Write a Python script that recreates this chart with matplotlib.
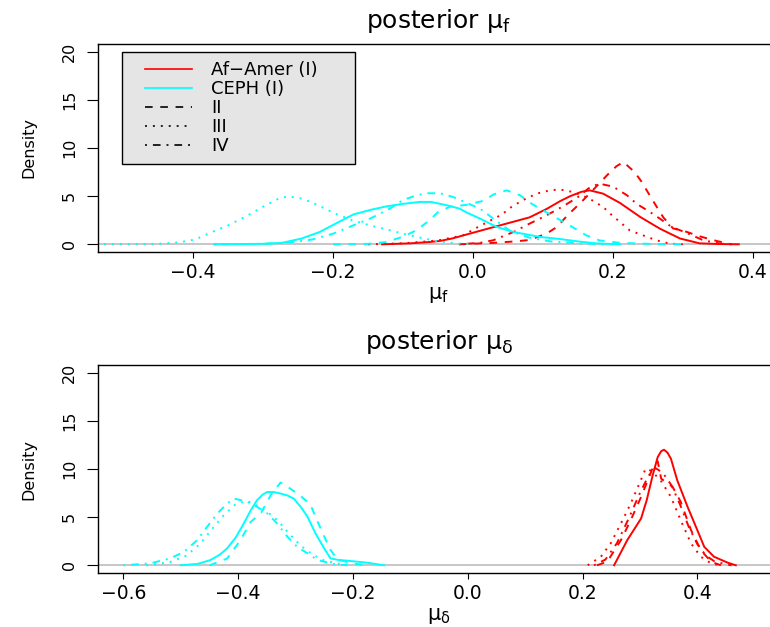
import matplotlib.pyplot as plt
from matplotlib.lines import Line2D
from matplotlib.legend_handler import HandlerLine2D

plt.rcParams['font.family'] = ['DejaVu Sans']
plt.rcParams['mathtext.fontset'] = 'dejavusans'
plt.rcParams['lines.scale_dashes'] = False

# ---------------- DATA: posterior mu_f (top panel) ----------------
# Af-Amer (red)
mf_afr_I_x = [-0.13, -0.09, -0.06, -0.047, -0.03, 0.0, 0.02, 0.048, 0.081, 0.106, 0.125, 0.139, 0.155, 0.167, 0.186, 0.21, 0.239, 0.267, 0.296, 0.324, 0.35, 0.38]
mf_afr_I_y = [0.0, 0.1, 0.25, 0.35, 0.6, 1.2, 1.6, 2.15, 2.8, 3.7, 4.5, 5.0, 5.45, 5.6, 5.26, 4.3, 2.84, 1.63, 0.6, 0.1, 0.03, 0.0]
mf_afr_II_x = [-0.02, 0.03, 0.06, 0.077, 0.09, 0.105, 0.12, 0.135, 0.155, 0.175, 0.192, 0.205, 0.215, 0.231, 0.241, 0.25, 0.26, 0.272, 0.286, 0.305, 0.324, 0.348, 0.37]
mf_afr_II_y = [0.0, 0.15, 0.3, 0.42, 0.7, 1.1, 1.8, 3.0, 4.4, 5.9, 7.2, 8.1, 8.55, 7.5, 6.5, 5.4, 4.2, 2.8, 1.65, 1.3, 0.83, 0.35, 0.0]
mf_afr_III_x = [-0.15, -0.1, -0.05, -0.014, 0.003, 0.021, 0.041, 0.055, 0.071, 0.091, 0.11, 0.124, 0.143, 0.165, 0.186, 0.196, 0.21, 0.224, 0.243, 0.262, 0.281, 0.30]
mf_afr_III_y = [0.0, 0.1, 0.4, 0.93, 1.63, 2.32, 3.08, 3.88, 4.57, 5.26, 5.6, 5.7, 5.43, 4.8, 3.88, 3.19, 2.32, 1.45, 0.93, 0.42, 0.07, 0.0]
mf_afr_IV_x = [-0.02, 0.01, 0.029, 0.058, 0.081, 0.105, 0.13, 0.15, 0.165, 0.18, 0.2, 0.22, 0.234, 0.253, 0.267, 0.284, 0.305, 0.329, 0.353, 0.37]
mf_afr_IV_y = [0.0, 0.15, 0.42, 1.28, 2.15, 3.0, 4.0, 4.9, 5.8, 6.3, 6.0, 5.1, 4.2, 3.35, 2.67, 1.8, 1.2, 0.42, 0.07, 0.0]
# CEPH (cyan)
mf_ceph_I_x = [-0.37, -0.30, -0.273, -0.245, -0.219, -0.195, -0.171, -0.145, -0.123, -0.1, -0.076, -0.06, -0.047, -0.037, -0.019, -0.009, 0.01, 0.034, 0.058, 0.096, 0.124, 0.15, 0.175, 0.2, 0.21]
mf_ceph_I_y = [0.0, 0.05, 0.15, 0.6, 1.28, 2.2, 3.1, 3.6, 3.95, 4.2, 4.4, 4.4, 4.2, 4.05, 3.7, 3.3, 2.67, 1.8, 1.28, 0.76, 0.55, 0.3, 0.1, 0.02, 0.0]
mf_ceph_II_x = [-0.2, -0.15, -0.123, -0.1, -0.081, -0.062, -0.05, -0.033, -0.009, 0.014, 0.03, 0.048, 0.067, 0.084, 0.1, 0.12, 0.135, 0.162, 0.181, 0.21, 0.25, 0.3]
mf_ceph_II_y = [0.0, 0.05, 0.24, 0.8, 1.45, 2.5, 3.35, 3.9, 4.1, 4.5, 5.2, 5.6, 5.1, 4.2, 3.53, 2.7, 2.1, 0.93, 0.4, 0.15, 0.05, 0.0]
mf_ceph_III_x = [-0.55, -0.45, -0.42, -0.397, -0.373, -0.35, -0.326, -0.30, -0.278, -0.264, -0.244, -0.221, -0.197, -0.173, -0.144, -0.121, -0.1, -0.076, -0.05, -0.02, 0.0]
mf_ceph_III_y = [0.02, 0.05, 0.2, 0.5, 1.28, 1.97, 2.84, 3.9, 4.74, 4.98, 4.74, 4.05, 3.19, 2.5, 1.9, 1.5, 1.1, 0.7, 0.3, 0.08, 0.0]
mf_ceph_IV_x = [-0.37, -0.30, -0.26, -0.23, -0.2, -0.171, -0.147, -0.119, -0.1, -0.08, -0.066, -0.047, -0.028, -0.009, 0.01, 0.034, 0.053, 0.08, 0.11, 0.15, 0.2]
mf_ceph_IV_y = [0.0, 0.05, 0.2, 0.5, 1.1, 1.97, 2.67, 3.7, 4.6, 5.1, 5.3, 5.3, 4.9, 4.3, 3.7, 2.4, 1.4, 0.7, 0.3, 0.1, 0.0]

# ---------------- DATA: posterior mu_delta (bottom panel) ----------------
md_afr_I_x = [0.255, 0.278, 0.302, 0.312, 0.322, 0.331, 0.337, 0.342, 0.348, 0.354, 0.365, 0.383, 0.4, 0.412, 0.429, 0.453, 0.467]
md_afr_I_y = [0.0, 2.62, 4.86, 6.8, 9.3, 11.24, 11.85, 12.0, 11.7, 11.07, 8.83, 6.07, 3.65, 1.92, 0.89, 0.27, 0.0]
md_afr_II_x = [0.225, 0.243, 0.267, 0.284, 0.302, 0.316, 0.325, 0.331, 0.337, 0.357, 0.371, 0.389, 0.406, 0.424, 0.441]
md_afr_II_y = [0.0, 0.37, 2.62, 4.69, 7.1, 9.17, 10.55, 10.8, 9.0, 8.14, 6.6, 3.65, 1.58, 0.37, 0.0]
md_afr_III_x = [0.209, 0.232, 0.249, 0.267, 0.284, 0.299, 0.31, 0.32, 0.336, 0.354, 0.371, 0.389, 0.406, 0.424, 0.44]
md_afr_III_y = [0.0, 0.89, 2.27, 4.35, 6.42, 8.48, 10.04, 9.8, 8.83, 7.1, 4.69, 2.27, 0.89, 0.2, 0.0]
md_afr_IV_x = [0.22, 0.24, 0.26, 0.28, 0.30, 0.315, 0.327, 0.34, 0.355, 0.37, 0.385, 0.40, 0.415, 0.43, 0.45, 0.46]
md_afr_IV_y = [0.0, 0.6, 2.3, 4.8, 7.5, 9.3, 10.1, 9.6, 8.3, 6.3, 4.0, 2.2, 1.0, 0.4, 0.1, 0.0]
md_ceph_I_x = [-0.50, -0.47, -0.448, -0.432, -0.419, -0.404, -0.39, -0.378, -0.367, -0.357, -0.349, -0.337, -0.326, -0.314, -0.303, -0.29, -0.279, -0.265, -0.25, -0.239, -0.225, -0.21, -0.175, -0.146]
md_ceph_I_y = [0.0, 0.15, 0.55, 1.1, 1.76, 2.9, 4.35, 5.7, 6.76, 7.35, 7.62, 7.6, 7.45, 7.25, 6.93, 6.0, 5.03, 3.3, 1.75, 0.72, 0.55, 0.48, 0.27, 0.0]
md_ceph_II_x = [-0.45, -0.419, -0.396, -0.378, -0.36, -0.343, -0.326, -0.31, -0.291, -0.274, -0.262, -0.25, -0.239, -0.227, -0.2, -0.18]
md_ceph_II_y = [0.0, 0.7, 2.6, 4.5, 5.45, 7.3, 8.6, 8.0, 7.2, 6.3, 4.6, 3.0, 1.6, 0.6, 0.2, 0.0]
md_ceph_III_x = [-0.56, -0.52, -0.49, -0.465, -0.445, -0.425, -0.405, -0.385, -0.37, -0.35, -0.33, -0.31, -0.29, -0.27, -0.25, -0.22, -0.2]
md_ceph_III_y = [0.0, 0.3, 1.0, 2.3, 3.8, 5.2, 6.3, 6.7, 6.3, 5.6, 4.6, 3.2, 2.0, 1.1, 0.5, 0.1, 0.0]
md_ceph_IV_x = [-0.6, -0.553, -0.518, -0.494, -0.471, -0.454, -0.436, -0.419, -0.407, -0.384, -0.367, -0.349, -0.332, -0.314, -0.297, -0.279, -0.262, -0.233, -0.21]
md_ceph_IV_y = [0.0, 0.2, 0.72, 1.41, 2.62, 4.0, 5.38, 6.42, 6.93, 6.6, 6.07, 5.38, 4.35, 2.96, 1.92, 1.24, 0.55, 0.13, 0.0]

legend_labels = ["Af\u2212Amer (I)", "CEPH (I)", "II", "III", "IV"]

RED = '#FF0000'
CYAN = '#00FFFF'
LS = {
    'I': '-',
    'II': (0, (5.5, 5.5)),
    'III': (0, (1.4, 4.3)),
    'IV': (0, (1.4, 4.3, 5.5, 4.3)),
}
LW = 1.4


def setup(ax, xlim, xticks, xlab, title):
    ax.axhline(0, color='#BEBEBE', lw=1.2, zorder=0)
    ax.set_xlim(xlim)
    ax.set_ylim(-0.8, 20.8)
    ax.set_xticks(xticks)
    ax.set_yticks([0, 5, 10, 15, 20])
    ax.tick_params(axis='x', length=4.5, pad=3.5, labelsize=13.5)
    ax.tick_params(axis='y', length=8, pad=7, labelsize=11.5, labelrotation=90)
    for lbl in ax.get_yticklabels():
        lbl.set_va('center')
    for sp in ax.spines.values():
        sp.set_linewidth(1.0)
    ax.spines['right'].set_visible(False)
    ax.set_xlabel(xlab, fontsize=15)
    ax.xaxis.set_label_coords(0.5, -0.16)
    ax.set_ylabel('Density', fontsize=11.5)
    ax.yaxis.set_label_coords(-0.09, 0.5)
    ax.set_title(title, fontsize=18, y=1.11, va='center', pad=0)


fig = plt.figure(figsize=(7.7, 6.27), dpi=100)

# ---------------- TOP: posterior mu_f ----------------
ax1 = fig.add_axes([98 / 770, 375 / 627, 680 / 770, 208 / 627])
ax1.plot(mf_afr_I_x, mf_afr_I_y, color=RED, ls=LS['I'], lw=LW)
ax1.plot(mf_afr_II_x, mf_afr_II_y, color=RED, ls=LS['II'], lw=LW)
ax1.plot(mf_afr_III_x, mf_afr_III_y, color=RED, ls=LS['III'], lw=LW)
ax1.plot(mf_afr_IV_x, mf_afr_IV_y, color=RED, ls=LS['IV'], lw=LW)
ax1.plot(mf_ceph_I_x, mf_ceph_I_y, color=CYAN, ls=LS['I'], lw=LW)
ax1.plot(mf_ceph_II_x, mf_ceph_II_y, color=CYAN, ls=LS['II'], lw=LW)
ax1.plot(mf_ceph_III_x, mf_ceph_III_y, color=CYAN, ls=LS['III'], lw=LW)
ax1.plot(mf_ceph_IV_x, mf_ceph_IV_y, color=CYAN, ls=LS['IV'], lw=LW)
setup(ax1, (-0.536, 0.436), [-0.4, -0.2, 0.0, 0.2, 0.4],
      r'$\mathregular{\mu_f}$', r'posterior $\mathregular{\mu_f}$')

handles = [
    Line2D([], [], color=RED, ls='-', lw=1.2),
    Line2D([], [], color=CYAN, ls='-', lw=1.2),
    Line2D([], [], color='black', ls=LS['II'], lw=1.2),
    Line2D([], [], color='black', ls=LS['III'], lw=1.2),
    Line2D([], [], color='black', ls=LS['IV'], lw=1.2),
]
leg = ax1.legend(handles, legend_labels, loc='upper left',
                 bbox_to_anchor=(24 / 680, 92 / 208, 233 / 680, 108 / 208),
                 mode='expand', borderaxespad=0, fancybox=False,
                 edgecolor='black', facecolor='#E5E5E5', framealpha=1,
                 fontsize=13, handlelength=3.35, handletextpad=1.1,
                 labelspacing=0.06, borderpad=0.5,
                 handler_map={Line2D: HandlerLine2D(xpad=0.75)})
leg.get_frame().set_linewidth(1.0)

# ---------------- BOTTOM: posterior mu_delta ----------------
ax2 = fig.add_axes([98 / 770, 54 / 627, 682 / 770, 208 / 627])
ax2.plot(md_afr_I_x, md_afr_I_y, color=RED, ls=LS['I'], lw=LW)
ax2.plot(md_afr_II_x, md_afr_II_y, color=RED, ls=LS['II'], lw=LW)
ax2.plot(md_afr_III_x, md_afr_III_y, color=RED, ls=LS['III'], lw=LW)
ax2.plot(md_afr_IV_x, md_afr_IV_y, color=RED, ls=LS['IV'], lw=LW)
ax2.plot(md_ceph_I_x, md_ceph_I_y, color=CYAN, ls=LS['I'], lw=LW)
ax2.plot(md_ceph_II_x, md_ceph_II_y, color=CYAN, ls=LS['II'], lw=LW)
ax2.plot(md_ceph_III_x, md_ceph_III_y, color=CYAN, ls=LS['III'], lw=LW)
ax2.plot(md_ceph_IV_x, md_ceph_IV_y, color=CYAN, ls=LS['IV'], lw=LW)
setup(ax2, (-0.644, 0.544), [-0.6, -0.4, -0.2, 0.0, 0.2, 0.4],
      r'$\mathregular{\mu_\delta}$', r'posterior $\mathregular{\mu_\delta}$')

fig.savefig('out.png', dpi=100)
